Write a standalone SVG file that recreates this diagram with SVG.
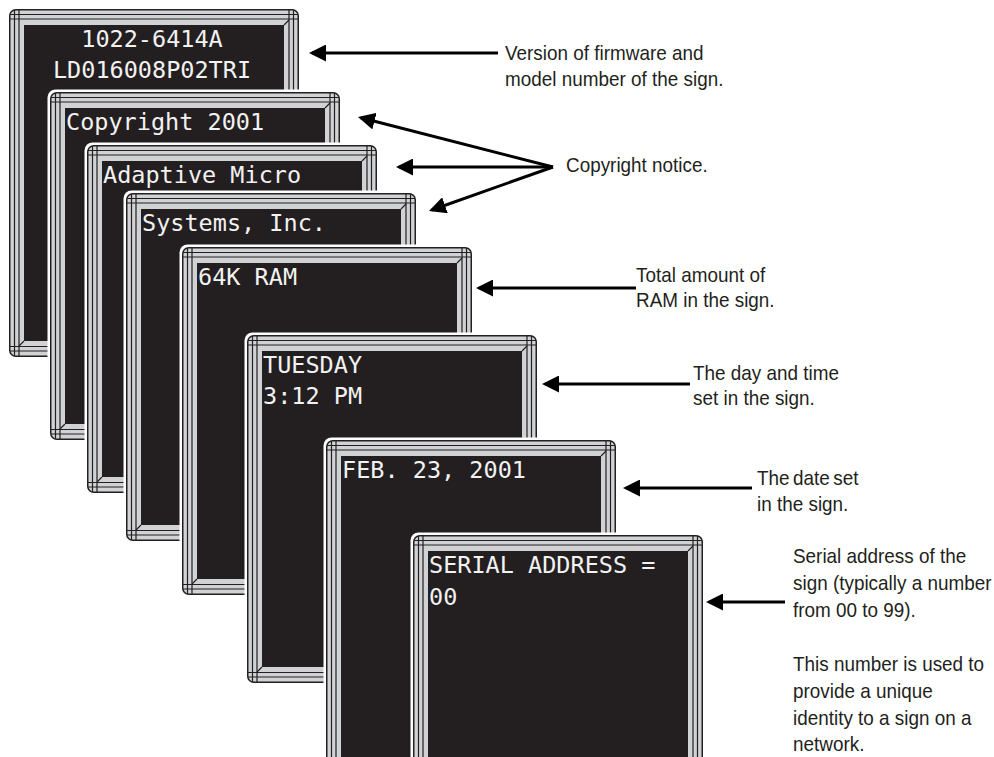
<svg xmlns="http://www.w3.org/2000/svg" xmlns:xlink="http://www.w3.org/1999/xlink" width="994" height="757" viewBox="0 0 994 757">
<style>
.sign-text{font-family:"DejaVu Sans Mono","Liberation Mono",monospace;font-size:23.5px;fill:#f2f2f2}
.label{font-family:"Liberation Sans",Arial,sans-serif;font-size:21px;fill:#231f20}
.arrow{stroke:#000;stroke-width:3;fill:none;marker-end:url(#head)}
.bz{stroke:#231f20;stroke-width:1.2;fill:none}
</style>
<defs>
<marker id="head" viewBox="0 0 17 17" refX="14" refY="8.5" markerWidth="17" markerHeight="17" markerUnits="userSpaceOnUse" orient="auto">
<path d="M0,0 L17,8.5 L0,17 Z" fill="#000"/>
</marker>
<g id="frame">
<rect x="-2.5" y="-2.5" width="295" height="353" rx="8" fill="#fff"/>
<rect x="0.75" y="0.75" width="288.5" height="346.5" rx="6" fill="#d1d2d4" stroke="#231f20" stroke-width="1.5"/>
<path class="bz" d="M5.5,1 V347 M10,1 V347 M280,1 V347 M284.5,1 V347 M1,5.5 H289 M1,10 H289 M1,337.5 H289 M1,342 H289"/>
<rect x="15" y="16" width="260" height="316" fill="#231f20"/>
<path class="bz" d="M275,16 L280,11 M15,332 L10,337"/>
</g>
</defs>

<g id="sign1">
<use xlink:href="#frame" x="9" y="9"/>
<text class="sign-text" x="152" y="47" text-anchor="middle">1022-6414A</text>
<text class="sign-text" x="152" y="78" text-anchor="middle">LD016008P02TRI</text>
</g>
<g id="sign2">
<use xlink:href="#frame" x="50" y="92"/>
<text class="sign-text" x="66" y="130">Copyright 2001</text>
</g>
<g id="sign3">
<use xlink:href="#frame" x="87" y="145"/>
<text class="sign-text" x="103" y="183">Adaptive Micro</text>
</g>
<g id="sign4">
<use xlink:href="#frame" x="126" y="193"/>
<text class="sign-text" x="142" y="231">Systems, Inc.</text>
</g>
<g id="sign5">
<use xlink:href="#frame" x="182" y="247"/>
<text class="sign-text" x="198" y="285">64K RAM</text>
</g>
<g id="sign6">
<use xlink:href="#frame" x="247" y="335"/>
<text class="sign-text" x="263" y="373">TUESDAY</text>
<text class="sign-text" x="263" y="404">3:12 PM</text>
</g>
<g id="sign7">
<use xlink:href="#frame" x="326" y="440"/>
<text class="sign-text" x="342" y="478">FEB. 23, 2001</text>
</g>
<g id="sign8">
<use xlink:href="#frame" x="413" y="535"/>
<text class="sign-text" x="429" y="573">SERIAL ADDRESS =</text>
<text class="sign-text" x="429" y="605">00</text>
</g>

<g id="connectors">
<path class="arrow" d="M498,53 H312"/>
<path class="arrow" d="M553,167 L360.9,117.7"/>
<path class="arrow" d="M553,167 H399"/>
<path class="arrow" d="M553,167 L431.8,210"/>
<path class="arrow" d="M636,288 H479"/>
<path class="arrow" d="M690,384 H545"/>
<path class="arrow" d="M752,488 H626"/>
<path class="arrow" d="M785,602 H709"/>
</g>

<g id="labels">
<g id="label-version" transform="translate(505 0) scale(0.9 1)">
<text class="label" x="0" y="60">Version of firmware and</text>
<text class="label" x="0" y="86">model number of the sign.</text>
</g>
<g id="label-copyright" transform="translate(566 0) scale(0.9 1)">
<text class="label" x="0" y="172">Copyright notice.</text>
</g>
<g id="label-ram" transform="translate(636 0) scale(0.9 1)">
<text class="label" x="0" y="282">Total amount of</text>
<text class="label" x="0" y="307">RAM in the sign.</text>
</g>
<g id="label-day" transform="translate(693 0) scale(0.9 1)">
<text class="label" x="0" y="380">The day and time</text>
<text class="label" x="0" y="405">set in the sign.</text>
</g>
<g id="label-date" transform="translate(757 0) scale(0.9 1)">
<text class="label" x="0" y="485" word-spacing="-2">The date set</text>
<text class="label" x="0" y="511">in the sign.</text>
</g>
<g id="label-serial" transform="translate(793 0) scale(0.9 1)">
<text class="label" x="0" y="563">Serial address of the</text>
<text class="label" x="0" y="590">sign (typically a number</text>
<text class="label" x="0" y="617">from 00 to 99).</text>
<text class="label" x="0" y="671">This number is used to</text>
<text class="label" x="0" y="698">provide a unique</text>
<text class="label" x="0" y="725">identity to a sign on a</text>
<text class="label" x="0" y="751">network.</text>
</g>
</g>
</svg>
